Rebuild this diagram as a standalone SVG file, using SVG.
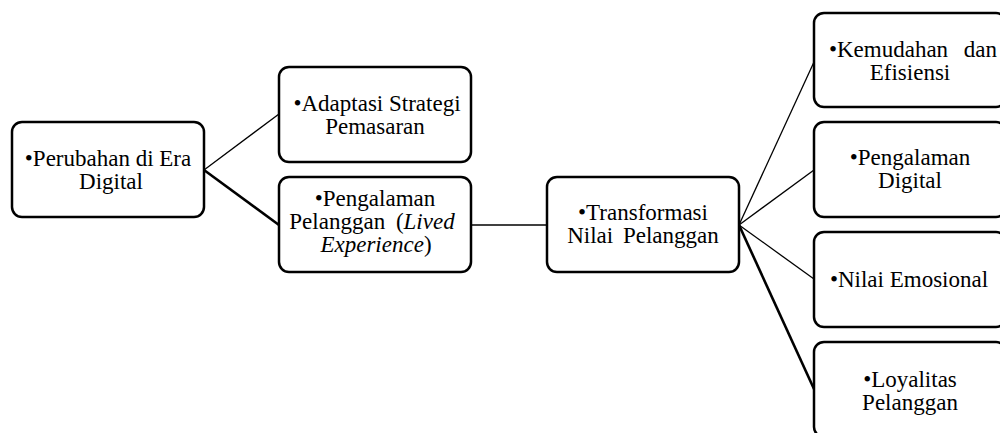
<svg xmlns="http://www.w3.org/2000/svg" width="1000" height="433" viewBox="0 0 1000 433">
<style>
.box{fill:#fff;stroke:#000;stroke-width:2.5}
.t{font-family:"Liberation Serif","Times New Roman",serif;font-size:23px;fill:#000;text-anchor:middle}
.thin{stroke:#000;stroke-width:1.3;fill:none}
.thick{stroke:#000;stroke-width:2.6;fill:none}
</style>
<rect width="1000" height="433" fill="#fff"/>
<g id="connectors">
<line class="thin" x1="204" y1="170" x2="279" y2="114"/>
<line class="thick" x1="204" y1="170" x2="279" y2="225"/>
<line class="thin" x1="471" y1="225" x2="547" y2="225"/>
<line class="thin" x1="739" y1="225" x2="814" y2="62"/>
<line class="thin" x1="739" y1="225" x2="814" y2="170"/>
<line class="thin" x1="739" y1="225" x2="814" y2="279"/>
<line class="thick" x1="739" y1="225" x2="814" y2="389"/>
</g>
<g id="n1" font-family="Liberation Serif, serif">
<rect class="box" x="12" y="122" width="192" height="95" rx="10"/>
<text class="t"><tspan x="108" y="166">•Perubahan di Era</tspan><tspan x="111" y="189">Digital</tspan></text>
</g>
<g id="n2" font-family="Liberation Serif, serif">
<rect class="box" x="279" y="67" width="192" height="95" rx="10"/>
<text class="t"><tspan x="377" y="111">•Adaptasi Strategi</tspan><tspan x="375" y="134">Pemasaran</tspan></text>
</g>
<g id="n3" font-family="Liberation Serif, serif">
<rect class="box" x="279" y="177" width="192" height="95" rx="10"/>
<text class="t" x="375" y="206">•Pengalaman</text>
<text class="t" x="372" y="229" word-spacing="5">Pelanggan (<tspan font-style="italic">Lived</tspan></text>
<text class="t" x="376" y="252"><tspan font-style="italic">Experience</tspan>)</text>
</g>
<g id="n4" font-family="Liberation Serif, serif">
<rect class="box" x="547" y="177" width="192" height="95" rx="10"/>
<text class="t" x="643" y="220">•Transformasi</text>
<text class="t" x="643" y="243" word-spacing="4">Nilai Pelanggan</text>
</g>
<g id="r1" font-family="Liberation Serif, serif">
<rect class="box" x="814" y="13" width="192" height="94" rx="10"/>
<text class="t"><tspan x="913" y="57" word-spacing="10">•Kemudahan dan</tspan><tspan x="910" y="80">Efisiensi</tspan></text>
</g>
<g id="r2" font-family="Liberation Serif, serif">
<rect class="box" x="814" y="122" width="192" height="95" rx="10"/>
<text class="t"><tspan x="910" y="165">•Pengalaman</tspan><tspan x="910" y="188">Digital</tspan></text>
</g>
<g id="r3" font-family="Liberation Serif, serif">
<rect class="box" x="814" y="232" width="192" height="95" rx="10"/>
<text class="t" x="909" y="287">•Nilai Emosional</text>
</g>
<g id="r4" font-family="Liberation Serif, serif">
<rect class="box" x="814" y="342" width="192" height="95" rx="10"/>
<text class="t"><tspan x="910" y="387">•Loyalitas</tspan><tspan x="910" y="410">Pelanggan</tspan></text>
</g>
</svg>
